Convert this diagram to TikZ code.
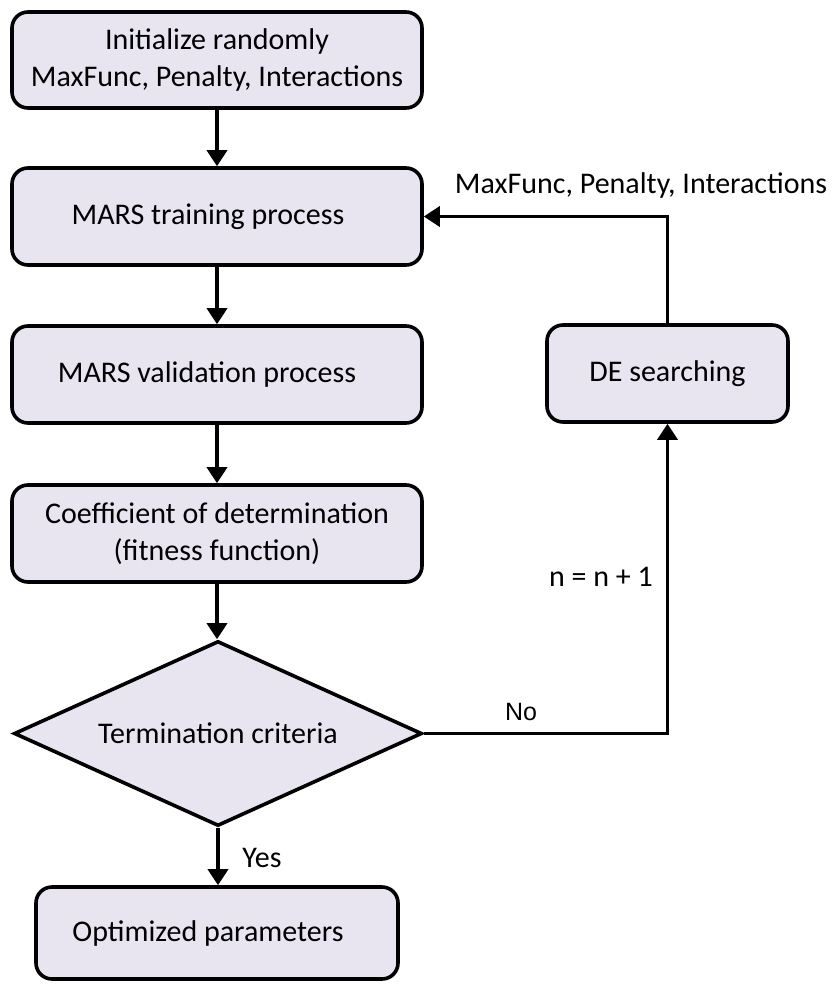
\documentclass[tikz,border=0pt]{standalone}
\usepackage{fontspec}
\setmainfont{Carlito}
\newfontfamily\arialf{Liberation Sans}
\usetikzlibrary{shapes.geometric,arrows.meta}
\definecolor{boxfill}{RGB}{232,229,240}
\tikzset{
  pbox/.style={draw=black, line width=3.6pt, fill=boxfill, rounded corners=16pt, align=center, font=\fontsize{30}{37}\selectfont, inner sep=0pt},
  dec/.style={draw=black, line width=3.6pt, fill=boxfill, diamond, aspect=2.2, inner sep=0pt, font=\fontsize{30}{37}\selectfont},
  conn/.style={line width=3.6pt, -{Triangle[length=16pt,width=20pt]}},
  lbl/.style={font=\fontsize{30}{37}\selectfont, inner sep=0pt},
}
\begin{document}
\begin{tikzpicture}[x=1pt,y=-1pt]
\useasboundingbox (0,0) rectangle (833,985);
\node[pbox, minimum width=410pt, minimum height=96pt] (init) at (217,60) {Initialize randomly\\MaxFunc, Penalty, Interactions};
\node[pbox, minimum width=410pt, minimum height=97pt] (train) at (217,216.5) {\hspace*{-18pt}MARS training process};
\node[pbox, minimum width=410pt, minimum height=97pt] (valid) at (217,374.5) {\hspace*{-20pt}MARS validation process};
\node[pbox, minimum width=410pt, minimum height=97pt] (coef) at (217,533.5) {Coefficient of determination\\(fitness function)};
\node[dec, minimum width=408pt, minimum height=185pt] (term) at (218,733.5) {\raisebox{-4pt}{Termination criteria}};
\node[pbox, minimum width=362pt, minimum height=92pt] (opt) at (217,933) {\hspace*{-18pt}Optimized parameters};
\node[pbox, minimum width=241pt, minimum height=97pt] (de) at (667.5,373.5) {DE searching};
\coordinate (c1) at (667.5,733.5);
\coordinate (c2) at (667.5,216.5);
\draw[conn] (init.south) -- (train.north);
\draw[conn] (train.south) -- (valid.north);
\draw[conn] (valid.south) -- (coef.north);
\draw[conn] (coef.south) -- (coef.south |- term.north);
\draw[conn] (term.south) -- (term.south |- opt.north);
\draw[conn] (term.east) -- (c1) -- (de.south);
\draw[conn] (de.north) -- (c2) -- (train.east);
\node[lbl] (yes) at (262,858) {Yes};
\node[lbl, font=\arialf\fontsize{25}{30}\selectfont] (no) at (521,712) {No};
\node[lbl] (nn) at (601,577) {n = n + 1};
\node[lbl] (par) at (641,185) {MaxFunc, Penalty, Interactions};
\end{tikzpicture}
\end{document}
